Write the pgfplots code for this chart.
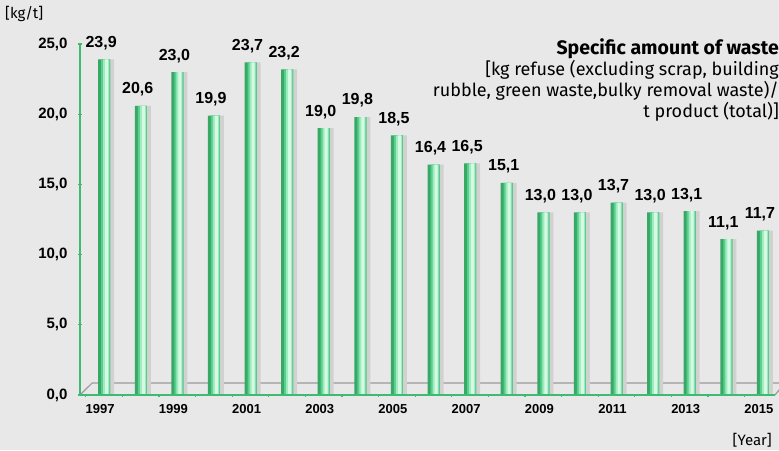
\documentclass[border=0pt]{standalone}
\usepackage{pgfplots}
\pgfplotsset{compat=1.18}
\usepackage{fontspec}
\setmainfont{Liberation Sans}
\newfontfamily\annofont{Fira Sans}
\definecolor{bg}{HTML}{E8E8E8}
\definecolor{g1}{HTML}{38A866}
\definecolor{g2}{HTML}{5ACE8C}
\definecolor{g3}{HTML}{9CECBE}
\definecolor{g4}{HTML}{D6F8E4}
\definecolor{axgreen}{HTML}{3DBB72}
\definecolor{floorgray}{HTML}{9A9A9A}
\pgfplotstableread{
year val
1997 23.9
1998 20.6
1999 23.0
2000 19.9
2001 23.7
2002 23.2
2003 19.0
2004 19.8
2005 18.5
2006 16.4
2007 16.5
2008 15.1
2009 13.0
2010 13.0
2011 13.7
2012 13.0
2013 13.1
2014 11.1
2015 11.7
}\waste
\begin{document}
\begin{tikzpicture}
\useasboundingbox (0pt,0pt) rectangle (779pt,450pt);
\fill[bg] (0pt,0pt) rectangle (779pt,450pt);
\node[anchor=north west, font=\annofont\fontsize{15}{17}\selectfont, inner sep=0pt] at (5pt,444pt) {{[}kg/t{]}};
\node[anchor=south east, font=\annofont\fontsize{15}{17}\selectfont, inner sep=0pt] at (772pt,3pt) {{[}Year{]}};
\node[anchor=north east, align=right, font=\annofont\fontsize{18}{21}\selectfont, inner sep=0pt] at (779pt,412pt)
 {{\fontsize{19.5}{21}\selectfont\bfseries Specific amount of waste}\\{[}kg refuse (excluding scrap, building\\rubble, green waste,bulky removal waste)/\\t product (total){]}};
\begin{axis}[
  at={(80pt,55pt)}, anchor=origin,
  scale only axis, width=695pt, height=351pt,
  xmin=1996.34, xmax=2015.33, ymin=0, ymax=25,
  clip=false,
  axis line style={draw=none},
  axis x line*=bottom, axis y line*=left,
  ytick={0,5,...,25},
  xtick={1997,1999,...,2015},
  minor xtick={1996.5,1997.5,...,2015.5},
  x tick label style={/pgf/number format/1000 sep={}, font=\bfseries\fontsize{13}{14}\selectfont, yshift=-4pt, xshift=-4pt},
  y tick label style={/pgf/number format/.cd, fixed, fixed zerofill, precision=1, use comma, /tikz/.cd, font=\bfseries\fontsize{15}{16}\selectfont, xshift=-7pt},
  yticklabel style={/pgf/number format/assume math mode=true},
  xticklabel style={/pgf/number format/assume math mode=true},
  major x tick style={draw=none},
  minor x tick style={axgreen, line width=1.2pt},
  minor tick length=3pt,
  major y tick style={axgreen, line width=1.2pt},
  major tick length=4pt,
  tick align=center,
  grid=none,
]
% floor
\draw[floorgray, line width=1.2pt] (axis cs:1996.34,0) -- (axis cs:1996.67,0.85) -- (axis cs:2015.6,0.85);
\draw[floorgray, line width=1.2pt] (axis cs:2015.33,0) -- (axis cs:2015.6,0.85);
% shadows
\addplot[ybar, bar width=12pt, draw=none, fill=black!18, bar shift=4pt] table[x=year,y=val] {\waste};
% bars (striped to mimic cylinders)
\addplot[ybar, bar width=12pt, draw=none, fill=g1,
  nodes near coords, nodes near coords style={font=\bfseries\fontsize{16}{17}\selectfont, black, yshift=6pt, xshift=-3pt, /pgf/number format/.cd, fixed, fixed zerofill, precision=1, use comma, assume math mode=true}] table[x=year,y=val] {\waste};
\addplot[ybar, bar width=9pt, bar shift=1.5pt, draw=none, fill=g2] table[x=year,y=val] {\waste};
\addplot[ybar, bar width=6pt, bar shift=2pt, draw=none, fill=g3] table[x=year,y=val] {\waste};
\addplot[ybar, bar width=3pt, bar shift=2.5pt, draw=none, fill=g4] table[x=year,y=val] {\waste};
% axis lines
\draw[axgreen, line width=2pt] (axis cs:1996.34,0) -- (axis cs:1996.34,25);
\draw[axgreen, line width=1.5pt] (axis cs:1996.34,0) -- (axis cs:2015.33,0);
\end{axis}
\end{tikzpicture}
\end{document}
